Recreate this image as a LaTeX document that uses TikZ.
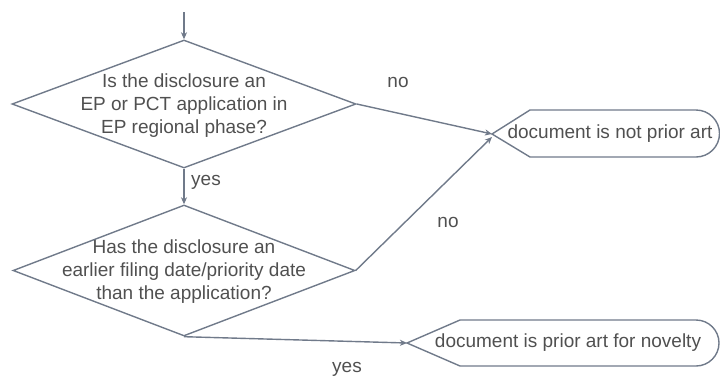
\documentclass[tikz,border=0pt]{standalone}
\usepackage{fontspec}
\setmainfont{Liberation Sans}
\usepackage{xcolor}
\usepackage{tikz}
\usetikzlibrary{arrows.meta,positioning,shapes.geometric}
\definecolor{flowline}{RGB}{112,122,138}
\definecolor{flowtext}{RGB}{80,80,80}

\begin{document}
\begin{tikzpicture}[
  x=1pt, y=-1pt,
  every node/.style={font=\fontsize{19}{23}\selectfont, text=flowtext},
  decision/.style={draw=flowline, line width=1.4pt, diamond, inner sep=0pt},
  qtext/.style={align=center, inner sep=0pt},
  outline/.style={draw=flowline, line width=1.4pt},
  tag/.style={inner sep=1pt},
  flow/.style={-{Stealth[length=7pt,width=6pt,inset=2pt]}, line width=1.4pt, color=flowline}
]
  \useasboundingbox (0,0) rectangle (720,378);

  \coordinate (start) at (184,12);
  \node[decision, minimum width=344pt, minimum height=128pt,
        label={[qtext, yshift=-2pt]center:{Is the disclosure an\\EP or PCT application in\\EP regional phase?}}]
        (q1) at (184,104) {};
  \node[decision, minimum width=342pt, minimum height=131pt,
        label={[qtext, yshift=-1.5pt]center:{Has the disclosure an\\earlier filing date/priority date\\than the application?}}]
        (q2) at (184,270.5) {};

  % result terminals
  \draw[outline] (492,134) -- (530,110) -- (696,110)
    arc[start angle=-90, end angle=90, radius=23.5] -- (530,157) -- cycle;
  \coordinate (notart-tip) at (492,134);
  \node (notart) at (610,134) {document is not prior art};

  \draw[outline] (407,343) -- (460,320) -- (696,320)
    arc[start angle=-90, end angle=90, radius=23] -- (460,366) -- cycle;
  \coordinate (novelty-tip) at (407,343);
  \node (novelty) at (568,343) {document is prior art for novelty};

  \draw[flow] (start) -- (q1.north);
  \draw[flow] (q1.south) -- (q2.north);
  \draw[flow] (q1.east) -- (notart-tip);
  \draw[flow] (q2.east) -- ([yshift=-3pt]notart-tip);
  \draw[flow] (q2.south) -- (novelty-tip);

  \node[tag] (no1) at (398,82) {no};
  \node[tag] (no2) at (448,222) {no};
  \node[tag] (yes1) at (206,182) {yes};
  \node[tag] (yes2) at (347,369) {yes};
\end{tikzpicture}
\end{document}
